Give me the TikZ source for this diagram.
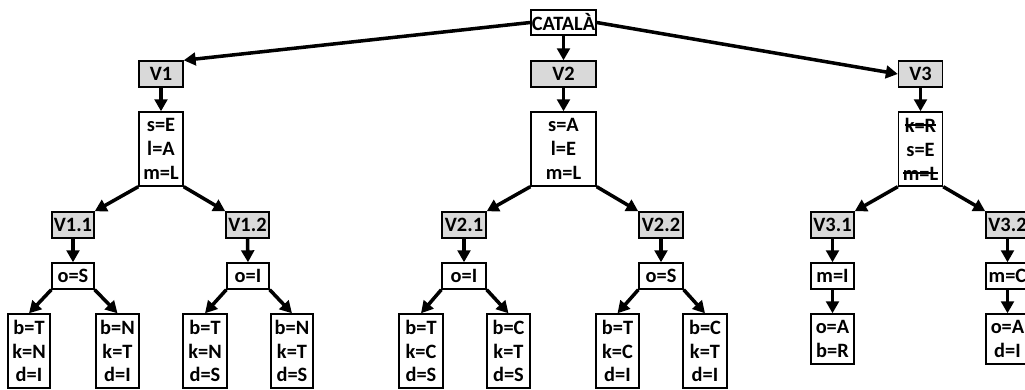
\documentclass[tikz,border=0pt]{standalone}
\usepackage{fontspec}
\setmainfont{Carlito}
\usetikzlibrary{arrows.meta}

\newcommand\ratllat[1]{\setbox0\hbox{#1}\rlap{\rule[0.3em]{\wd0}{1.3pt}}\box0}

\tikzset{
	caixa/.style={draw, line width=1pt, fill=white, inner sep=0pt, align=center, font=\bfseries\fontsize{14.5}{17}\selectfont},
	versio/.style={caixa, fill=black!15},
	mida/.style 2 args={minimum width=#1*0.025cm, minimum height=#2*0.025cm},
	fletxa/.style={line width=2.5pt, -{Triangle[length=8.5pt,width=9pt]}}
}

\begin{document}
\begin{tikzpicture}[x=0.025cm,y=-0.025cm]
		\useasboundingbox (0,0) rectangle (1025,389);
		\clip (0,0) rectangle (1025,389);
		\node[caixa,mida={65}{25}] (catala) at (563.5,22.5) {CATALÀ};
		\node[versio,mida={44}{26}] (v1) at (161,74) {V1};
		\node[versio,mida={65}{26}] (v2) at (563.5,74) {V2};
		\node[versio,mida={44}{26}] (v3) at (920.5,74) {V3};
		\node[caixa,mida={44}{74}] (c1) at (161,149) {s=E\\l=A\\m=L};
		\node[caixa,mida={65}{74}] (c2) at (563.5,149) {s=A\\l=E\\m=L};
		\node[caixa,mida={44}{74}] (c3) at (920.5,149) {\ratllat{k=R}\\s=E\\\ratllat{m=L}};
		\node[versio,mida={42}{26}] (v11) at (73,225) {V1.1};
		\node[versio,mida={43}{26}] (v12) at (247.5,225) {V1.2};
		\node[versio,mida={44}{26}] (v21) at (464,225) {V2.1};
		\node[versio,mida={44}{26}] (v22) at (661,225) {V2.2};
		\node[versio,mida={43}{26}] (v31) at (832.5,225) {V3.1};
		\node[versio,mida={43}{26}] (v32) at (1007.5,225) {V3.2};
		\node[caixa,mida={42}{26}] (o11) at (73,276) {o=S};
		\node[caixa,mida={42}{26}] (o12) at (248,276) {o=I};
		\node[caixa,mida={44}{26}] (o21) at (464,276) {o=I};
		\node[caixa,mida={44}{26}] (o22) at (661,276) {o=S};
		\node[caixa,mida={43}{26}] (m31) at (832.5,276) {m=I};
		\node[caixa,mida={43}{26}] (m32) at (1007.5,276) {m=C};
		\node[caixa,mida={43}{50}] (f31) at (832.5,339) {o=A\\b=R};
		\node[caixa,mida={43}{50}] (f32) at (1007.5,339) {o=A\\d=I};
		\node[caixa,mida={42}{74}] (l111) at (29,351) {b=T\\k=N\\d=I};
		\node[caixa,mida={43}{74}] (l112) at (117.5,351) {b=N\\k=T\\d=I};
		\node[caixa,mida={44}{74}] (l121) at (205,351) {b=T\\k=N\\d=S};
		\node[caixa,mida={42}{74}] (l122) at (292,351) {b=N\\k=T\\d=S};
		\node[caixa,mida={44}{74}] (l211) at (421,351) {b=T\\k=C\\d=S};
		\node[caixa,mida={43}{74}] (l212) at (508.5,351) {b=C\\k=T\\d=S};
		\node[caixa,mida={43}{74}] (l221) at (617.5,351) {b=T\\k=C\\d=I};
		\node[caixa,mida={44}{74}] (l222) at (705,351) {b=C\\k=T\\d=I};
		\draw[fletxa] (catala.west) -- (v1.north east);
		\draw[fletxa] (catala.east) -- (v3.west);
		\foreach \a/\b in {catala/v2, v1/c1, v2/c2, v3/c3, v11/o11, v12/o12, v21/o21, v22/o22, v31/m31, v32/m32, m31/f31, m32/f32}
			\draw[fletxa] (\a.south) -- (\b.north);
		\foreach \a/\e/\d in {c1/v11/v12, c2/v21/v22, c3/v31/v32}{
			\draw[fletxa] (\a.south west) -- (\e.north east);
			\draw[fletxa] (\a.south east) -- (\d.north west);
		}
		\foreach \a/\e/\d in {o11/l111/l112, o12/l121/l122, o21/l211/l212, o22/l221/l222}{
			\draw[fletxa] (\a.south west) -- (\e.north);
			\draw[fletxa] (\a.south east) -- (\d.north);
		}
	\end{tikzpicture}
\end{document}
